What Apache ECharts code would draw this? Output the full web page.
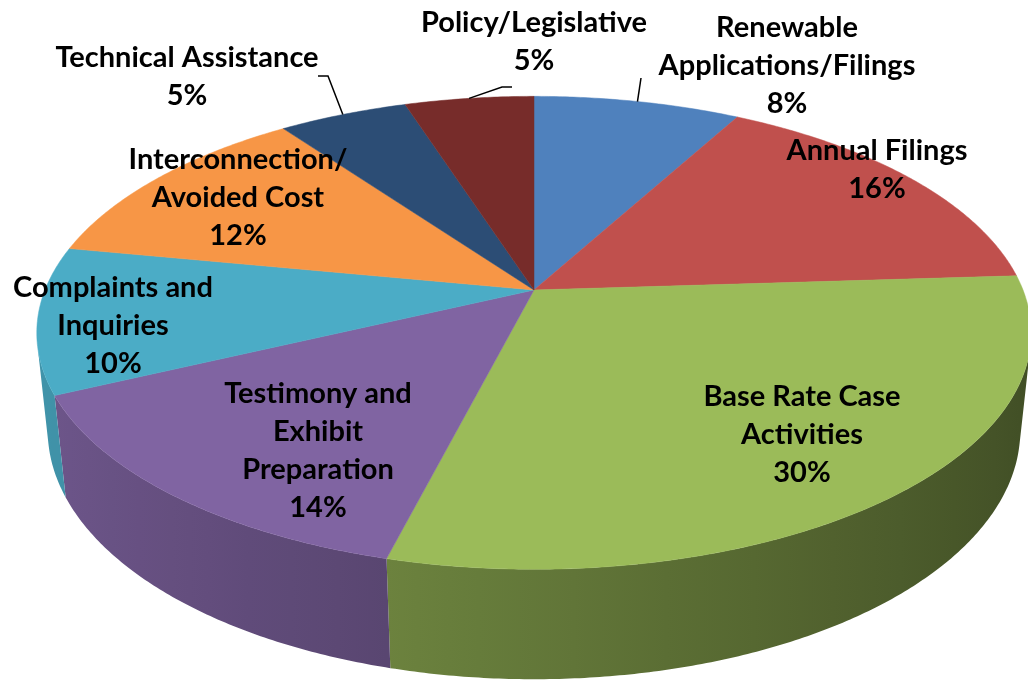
<!DOCTYPE html>
<html lang="en">
<head>
    <meta charset="UTF-8">
    <title>3d-pie-casework</title>
    <script src="https://cdn.jsdelivr.net/npm/echarts@6/dist/echarts.min.js"></script>
    <style>
        html, body {
            margin: 0;
            padding: 0;
            background: #ffffff;
        }

        #main {
            width: 1028px;
            height: 681px;
        }
    </style>
</head>
<body>
<div id="main"></div>
<script>
    // 数据
    const categories = ['Renewable Applications/Filings', 'Annual Filings', 'Base Rate Case Activities',
        'Testimony and Exhibit Preparation', 'Complaints and Inquiries', 'Interconnection/ Avoided Cost',
        'Technical Assistance', 'Policy/Legislative'];
    const values = [8, 16, 30, 14, 10, 12, 5, 5];
    // 标签里的换行写法
    const labelNames = ['Renewable\nApplications/Filings', 'Annual Filings', 'Base Rate Case\nActivities',
        'Testimony and\nExhibit\nPreparation', 'Complaints and\nInquiries', 'Interconnection/\nAvoided Cost',
        'Technical Assistance', 'Policy/Legislative'];

    // 样式 / 布局
    const colors = ['#4F81BD', '#C0504D', '#9BBB59', '#8064A2', '#4BACC6', '#F79646', '#2C4D75', '#772C2A'];
    const labelPos = [[787, 66], [877, 170], [802, 435], [318, 451], [113, 326], [238, 198], [187, 77], [534, 42]];
    const leaderEnds = [[[641, 78]], null, null, null, null, null, [[328, 76], [318, 76]], [[502, 87], [512, 87]]];

    // 透视参数
    const CX = 534, CY = 290, R = 489;
    const SIN = 0.4677, COS = 0.884, D = 4.883, H = 0.228;
    const FONT = 'Lato';

    const total = values.reduce((a, b) => a + b, 0);
    let starts = [];
    let acc = 0;
    values.forEach(v => {
        starts.push(acc / total * 360);
        acc += v;
    });

    /*
    * 投影 theta: 从12点顺时针角度, r: 半径比例, y: 高度(顶面0, 底面 -H)
    * */
    function proj(theta, r, y) {
        let t = theta * Math.PI / 180;
        let X = r * Math.sin(t), Z = -r * Math.cos(t);
        let w = Z * COS + y * SIN;
        let k = D / (D - w);
        return [CX + X * k * R, CY + (Z * SIN - y * COS) * k * R];
    }

    function shade(hex, f) {
        let n = parseInt(hex.slice(1), 16);
        let r = Math.round(((n >> 16) & 255) * f);
        let g = Math.round(((n >> 8) & 255) * f);
        let b = Math.round((n & 255) * f);
        return 'rgb(' + r + ',' + g + ',' + b + ')';
    }

    function wallFactor(theta) {
        return 0.64 - 0.23 * Math.sin(theta * Math.PI / 180);
    }

    // 侧面可见范围
    const visCos = 1 / (D * COS);
    const visLo = Math.acos(-visCos) * 180 / Math.PI;
    const visHi = 360 - visLo;

    function renderWall(params, api) {
        let i = params.dataIndex;
        let a0 = starts[i];
        let a1 = a0 + api.value(0) / total * 360;
        let lo = Math.max(a0, visLo), hi = Math.min(a1, visHi);
        if (lo >= hi) {
            return null;
        }
        let top = [], bottom = [];
        let steps = Math.max(4, Math.ceil((hi - lo) / 0.5));
        for (let s = 0; s <= steps; s++) {
            let th = lo + (hi - lo) * s / steps;
            top.push(proj(th, 1, 0));
            bottom.push(proj(th, 1, -H));
        }
        let pts = top.concat(bottom.reverse());
        let xs = top.map(p => p[0]);
        let xmin = Math.min.apply(null, xs), xmax = Math.max.apply(null, xs);
        let stops = [];
        for (let s = 0; s <= 10; s++) {
            let th = lo + (hi - lo) * s / 10;
            let p = proj(th, 1, 0);
            stops.push({
                offset: xmax > xmin ? (p[0] - xmin) / (xmax - xmin) : 0,
                color: shade(colors[i], wallFactor(th))
            });
        }
        stops.sort((a, b) => a.offset - b.offset);
        return {
            type: 'polygon',
            shape: {points: pts},
            style: {
                fill: {type: 'linear', x: xmin, y: 0, x2: xmax, y2: 0, global: true, colorStops: stops},
                stroke: null
            }
        };
    }

    function renderTop(params, api) {
        let i = params.dataIndex;
        let a0 = starts[i];
        let a1 = a0 + api.value(0) / total * 360;
        let pts = [[CX, CY]];
        let steps = Math.max(4, Math.ceil((a1 - a0) / 0.5));
        for (let s = 0; s <= steps; s++) {
            pts.push(proj(a0 + (a1 - a0) * s / steps, 1, 0));
        }
        let children = [{
            type: 'polygon',
            shape: {points: pts},
            style: {fill: colors[i], stroke: colors[i], lineWidth: 0.5}
        }];
        let pct = Math.round(api.value(0) / total * 100) + '%';
        children.push({
            type: 'text',
            z2: 100,
            x: labelPos[i][0],
            y: labelPos[i][1],
            style: {
                text: labelNames[i] + '\n' + pct,
                fill: '#000000',
                font: 'bold 29px ' + FONT,
                lineHeight: 38,
                align: 'center',
                verticalAlign: 'middle'
            }
        });
        if (leaderEnds[i]) {
            let mid = (a0 + a1) / 2;
            let line = [proj(mid, 1, 0)].concat(leaderEnds[i]);
            children.push({
                type: 'polyline',
                z2: 90,
                shape: {points: line},
                style: {stroke: '#000000', lineWidth: 1.5, fill: null}
            });
        }
        return {type: 'group', children: children};
    }

    let seriesData = categories.map((name, i) => ({name: name, value: [values[i]]}));

    let option = {
        backgroundColor: '#ffffff',
        animation: false,
        series: [
            {
                type: 'custom',
                name: 'wall',
                coordinateSystem: 'none',
                silent: true,
                renderItem: renderWall,
                data: seriesData
            },
            {
                type: 'custom',
                name: 'top',
                coordinateSystem: 'none',
                renderItem: renderTop,
                data: seriesData
            }
        ]
    };

    let myChart = echarts.init(document.getElementById('main'), null, {renderer: 'canvas'});
    myChart.setOption(option);
</script>
</body>
</html>
